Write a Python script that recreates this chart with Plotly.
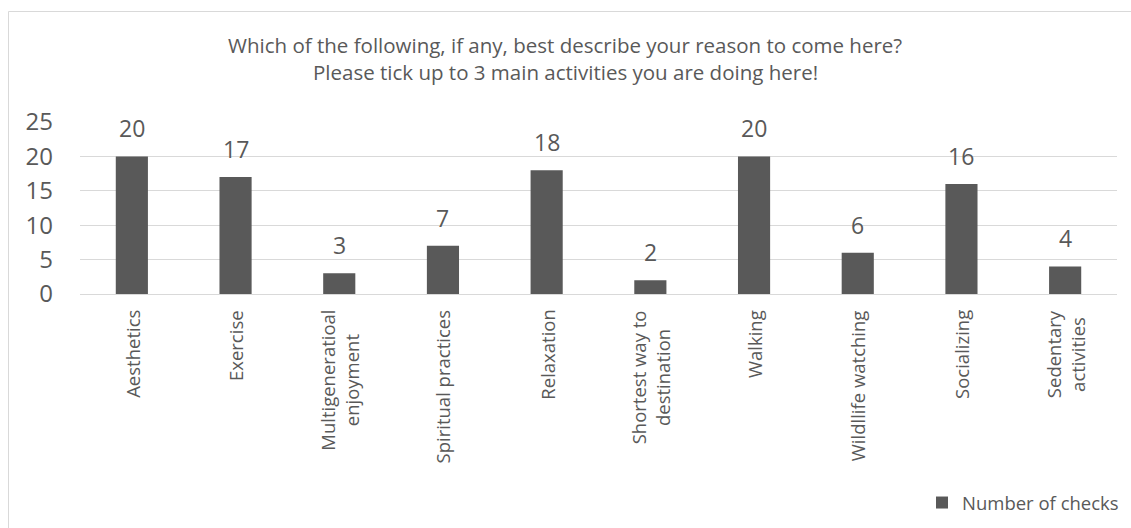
import plotly.graph_objects as go

# Survey responses: reasons for visiting
categories = [
    "Aesthetics",
    "Exercise",
    "Multigeneratioal<br>enjoyment",
    "Spiritual practices",
    "Relaxation",
    "Shortest way to<br>destination",
    "Walking",
    "Wildllife watching",
    "Socializing",
    "Sedentary<br>activities",
]
checks = [20, 17, 3, 7, 18, 2, 20, 6, 16, 4]
y_ticks = [0, 5, 10, 15, 20, 25]
series_name = "Number of checks"
title_lines = [
    "Which of the following, if any, best describe your reason to come here?",
    "Please tick up to 3 main activities you are doing here!",
]

TEXT = "#595959"
BAR = "#595959"
GRID = "#d9d9d9"
FONT = "Open Sans"

W, H = 1131, 528
L, R, T, B = 80, 14, 122, 234
plot_w = W - L - R
plot_h = H - T - B


def px_to_paper_x(px):
    return (px - L) / plot_w


def px_to_paper_y(py):
    return (H - B - py) / plot_h


fig = go.Figure()
fig.add_trace(
    go.Bar(
        x=categories,
        y=checks,
        name=series_name,
        marker=dict(color=BAR, line=dict(width=0)),
        width=0.31,
        showlegend=True,
        hoverinfo="x+y",
    )
)

# Value labels above each bar
for c, v in zip(categories, checks):
    fig.add_annotation(
        x=c, y=v, text=str(v), showarrow=False,
        yanchor="bottom", yshift=10,
        font=dict(family=FONT, size=23, color=TEXT),
    )

# Rotated category labels, multi-line ones centred line by line
for c in categories:
    fig.add_annotation(
        x=c, xref="x", yref="paper", y=px_to_paper_y(308),
        text=c, showarrow=False, textangle=-90, align="center",
        xanchor="center", yanchor="top",
        font=dict(family=FONT, size=18.5, color=TEXT),
    )

# Two-line chart title
for i, line in enumerate(title_lines):
    fig.add_annotation(
        xref="paper", yref="paper",
        x=px_to_paper_x(565), y=px_to_paper_y(45 + 27 * i),
        text=line, showarrow=False, xanchor="center", yanchor="middle",
        font=dict(family=FONT, size=20.5, color=TEXT),
    )

# Chart-area border (left and top edges fall inside the page)
fig.add_shape(
    type="rect", xref="paper", yref="paper",
    x0=px_to_paper_x(8.5), x1=px_to_paper_x(W + 20),
    y0=px_to_paper_y(H + 20), y1=px_to_paper_y(11.5),
    line=dict(color=GRID, width=1), fillcolor="rgba(0,0,0,0)", layer="below",
)

fig.update_layout(
    width=W, height=H,
    margin=dict(l=L, r=R, t=T, b=B, pad=0, autoexpand=False),
    paper_bgcolor="white", plot_bgcolor="white",
    font=dict(family=FONT, color=TEXT),
    bargap=0.69,
    legend=dict(
        x=px_to_paper_x(1124), xanchor="right", y=px_to_paper_y(503), yanchor="middle",
        font=dict(family=FONT, size=18.5, color=TEXT),
        bgcolor="rgba(0,0,0,0)", itemwidth=30,
    ),
    xaxis=dict(
        showticklabels=False,
        showline=True, linecolor=GRID, linewidth=1,
        ticks="", showgrid=False, automargin=False,
    ),
    yaxis=dict(
        range=[0, 25],
        tickvals=y_ticks,
        tickfont=dict(family=FONT, size=24, color=TEXT),
        showgrid=True, gridcolor=GRID, gridwidth=1,
        zeroline=False, showline=False, ticks="",
        ticklabelstandoff=26, automargin=False,
    ),
)

fig.write_html("out.html")
